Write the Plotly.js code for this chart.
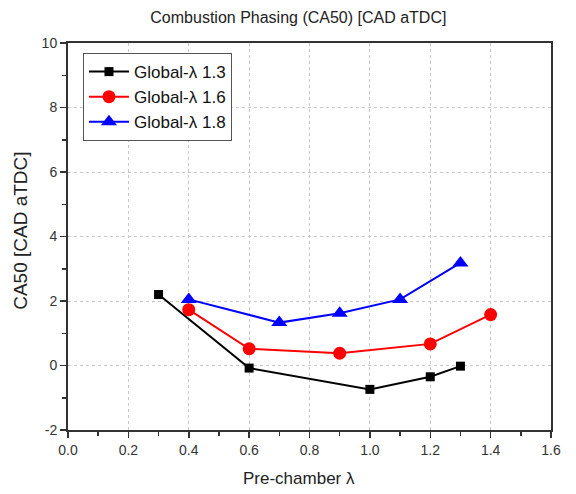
<!DOCTYPE html>
<html>
<head>
<meta charset="utf-8">
<script src="https://cdn.plot.ly/plotly-3.0.1.min.js"></script>
<style>html,body{margin:0;padding:0;background:#fff;}#chart{width:576px;height:494px;}</style>
</head>
<body>
<div id="chart"></div>
<script>
var seriesNames = ["Global-\u03bb 1.3", "Global-\u03bb 1.6", "Global-\u03bb 1.8"];
var x13 = [0.3, 0.6, 1.0, 1.2, 1.3];
var y13 = [2.2, -0.08, -0.74, -0.35, -0.02];
var x16 = [0.4, 0.6, 0.9, 1.2, 1.4];
var y16 = [1.73, 0.52, 0.38, 0.67, 1.58];
var x18 = [0.4, 0.7, 0.9, 1.1, 1.3];
var y18 = [2.05, 1.33, 1.62, 2.05, 3.18];
var xTicks = [0, 0.2, 0.4, 0.6, 0.8, 1.0, 1.2, 1.4, 1.6];
var yTicks = [-2, 0, 2, 4, 6, 8, 10];

var traces = [
  {x: x13, y: y13, name: seriesNames[0], mode: 'lines+markers',
   line: {color: '#000000', width: 2}, marker: {symbol: 'square', size: 9, color: '#000000'}},
  {x: x16, y: y16, name: seriesNames[1], mode: 'lines+markers',
   line: {color: '#ff0000', width: 2}, marker: {symbol: 'circle', size: 13, color: '#ff0000'}},
  {x: x18, y: y18, name: seriesNames[2], mode: 'lines+markers',
   line: {color: '#0000ff', width: 2}, marker: {symbol: 'triangle-up', size: 14, color: '#0000ff'}}
];

var layout = {
  width: 576, height: 494,
  margin: {l: 68, r: 25, t: 43, b: 64},
  paper_bgcolor: '#ffffff', plot_bgcolor: '#ffffff',
  font: {family: 'Liberation Sans, Arial, sans-serif', color: '#222'},
  title: {text: 'Combustion Phasing (CA50) [CAD aTDC]', font: {size: 16, color: '#222'},
          x: 0.518, xanchor: 'center', y: 0.965, yanchor: 'middle'},
  xaxis: {
    range: [0, 1.6], tickmode: 'array', tickvals: xTicks,
    ticktext: xTicks.map(function(v){ return v.toFixed(1); }),
    showline: true, linecolor: '#333', linewidth: 2, mirror: true,
    ticks: 'outside', ticklen: 6, tickwidth: 1.5, tickcolor: '#333',
    minor: {dtick: 0.1, tick0: 0, ticks: 'outside', ticklen: 4, tickcolor: '#333', tickwidth: 1.5, showgrid: false},
    showgrid: true, gridcolor: '#c8c8c8', griddash: 'dot', gridwidth: 1,
    zeroline: false,
    tickfont: {size: 14, color: '#333'}
  },
  yaxis: {
    range: [-2, 10], tickmode: 'array', tickvals: yTicks,
    ticktext: yTicks.map(function(v){ return String(v); }),
    showline: true, linecolor: '#333', linewidth: 2, mirror: true,
    ticks: 'outside', ticklen: 6, tickwidth: 1.5, tickcolor: '#333',
    minor: {dtick: 1, tick0: 0, ticks: 'outside', ticklen: 4, tickcolor: '#333', tickwidth: 1.5, showgrid: false},
    showgrid: true, gridcolor: '#c8c8c8', griddash: 'dot', gridwidth: 1,
    zeroline: false,
    tickfont: {size: 14, color: '#333'}
  },
  annotations: [
    {text: 'Pre-chamber \u03bb', xref: 'paper', yref: 'paper', x: 0.479, y: -0.125,
     xanchor: 'center', yanchor: 'middle', showarrow: false, font: {size: 17, color: '#222'}},
    {text: 'CA50 [CAD aTDC]', xref: 'paper', yref: 'paper', x: -0.1, y: 0.514,
     xanchor: 'center', yanchor: 'middle', showarrow: false, textangle: -90, font: {size: 19, color: '#222'}}
  ],
  showlegend: true,
  legend: {x: 0.031, y: 0.974, xanchor: 'left', yanchor: 'top',
           bgcolor: '#ffffff', bordercolor: '#555', borderwidth: 1,
           font: {size: 17, color: '#111'}, tracegroupgap: 0, itemwidth: 40}
};

Plotly.newPlot('chart', traces, layout, {displayModeBar: false, staticPlot: true});
</script>
</body>
</html>
